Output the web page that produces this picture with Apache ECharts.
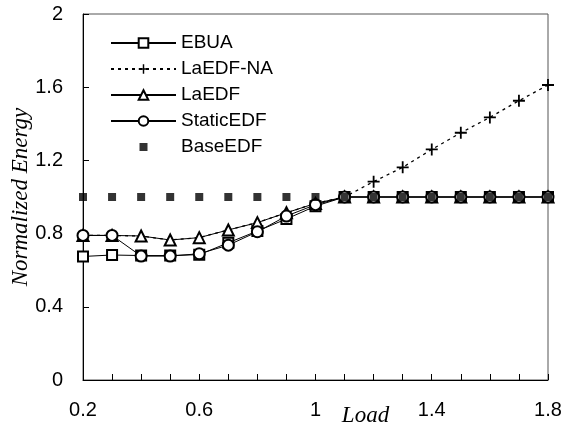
<!DOCTYPE html>
<html>
<head>
<meta charset="utf-8">
<script src="https://cdn.jsdelivr.net/npm/echarts@6/dist/echarts.min.js"></script>
<style>html,body{margin:0;padding:0;background:#fff}#c{width:564px;height:436px}</style>
</head>
<body>
<div id="c"></div>
<script>
var loads = [0.2,0.3,0.4,0.5,0.6,0.7,0.8,0.9,1.0,1.1,1.2,1.3,1.4,1.5,1.6,1.7,1.8];
var ebua      = [0.675,0.683,0.68,0.68,0.685,0.75,0.814,0.88,0.95,1.0,1.0,1.0,1.0,1.0,1.0,1.0,1.0];
var laedfNA   = [0.79,0.79,0.787,0.765,0.778,0.82,0.86,0.914,0.965,1.0,1.084,1.162,1.26,1.351,1.435,1.526,1.612];
var laedf     = [0.79,0.79,0.787,0.765,0.778,0.82,0.86,0.914,0.965,1.0,1.0,1.0,1.0,1.0,1.0,1.0,1.0];
var staticEdf = [0.79,0.79,0.677,0.677,0.69,0.737,0.81,0.896,0.958,1.0,1.0,1.0,1.0,1.0,1.0,1.0,1.0];
var baseEdf   = [1.0,1.0,1.0,1.0,1.0,1.0,1.0,1.0,1.0,1.0,1.0,1.0,1.0,1.0,1.0,1.0,1.0];
var xTickLabels = ['0.2','0.6','1','1.4','1.8'];
var yTickLabels = ['0','0.4','0.8','1.2','1.6','2'];
var seriesNames = ['EBUA','LaEDF-NA','LaEDF','StaticEDF','BaseEDF'];

function pairs(vals){ return loads.map(function(x,i){ return [x, vals[i]]; }); }
var plusPath = 'path://M0,4.25H4.25V0H5.75V4.25H10V5.75H5.75V10H4.25V5.75H0Z';
var squareIcon = 'path://M0,0M65,12M28.5,2H36.5V10H28.5Z';
var sans = 'Liberation Sans, Arial, sans-serif';
var serif = 'Liberation Serif, Times New Roman, serif';

var chart = echarts.init(document.getElementById('c'));
chart.setOption({
  animation: false,
  backgroundColor: '#fff',
  grid: { left: 83, right: 16, top: 14, bottom: 56, show: true, borderColor: '#555', borderWidth: 1,
          containLabel: false, outerBoundsMode: 'none' },
  legend: {
    orient: 'vertical', left: 110, top: 33, padding: 0,
    itemWidth: 65, itemHeight: 12, itemGap: 6,
    textStyle: { fontFamily: sans, fontSize: 19, lineHeight: 20, color: '#000' },
    data: [
      { name: 'EBUA' }, { name: 'LaEDF-NA' }, { name: 'LaEDF' }, { name: 'StaticEDF' },
      { name: 'BaseEDF', icon: squareIcon }
    ]
  },
  xAxis: {
    type: 'value', min: 0.2, max: 1.8, interval: 0.1,
    name: 'Load', nameLocation: 'middle', nameGap: 24, nameMoveOverlap: false,
    nameTextStyle: { fontFamily: serif, fontStyle: 'italic', fontSize: 23, color: '#000', padding: [0,0,0,100] },
    axisLine: { lineStyle: { color: '#000', width: 1 } },
    axisTick: { inside: true, length: 6, lineStyle: { color: '#000' } },
    splitLine: { show: false },
    axisLabel: {
      margin: 20, color: '#000', fontFamily: sans, fontSize: 20,
      formatter: function(v){
        var k = Math.round(v*10);
        if ((k-2) % 4 === 0) return xTickLabels[(k-2)/4];
        return '';
      }
    }
  },
  yAxis: {
    type: 'value', min: 0, max: 2, interval: 0.4,
    name: 'Normalized Energy', nameLocation: 'middle', nameGap: 51, nameMoveOverlap: false,
    nameTextStyle: { fontFamily: serif, fontStyle: 'italic', fontSize: 23, color: '#000' },
    axisLine: { show: true, lineStyle: { color: '#000', width: 1 } },
    axisTick: { show: true, inside: true, length: 6, lineStyle: { color: '#000' } },
    splitLine: { show: false },
    axisLabel: {
      margin: 20, color: '#000', fontFamily: sans, fontSize: 20,
      formatter: function(v){ return yTickLabels[Math.round(v/0.4)]; }
    }
  },
  series: [
    { name: 'EBUA', type: 'line', data: pairs(ebua), symbol: 'emptyRect', symbolSize: 10,
      lineStyle: { color: '#000', width: 1 }, itemStyle: { color: '#000', borderWidth: 1 }, z: 2 },
    { name: 'LaEDF-NA', type: 'line', data: pairs(laedfNA), symbol: plusPath,
      symbolSize: function(v){ return v[0] > 1.05 ? 12 : 0; },
      lineStyle: { color: '#000', width: 1.3, type: [3,4] }, itemStyle: { color: '#000' }, z: 3 },
    { name: 'LaEDF', type: 'line', data: pairs(laedf), symbol: 'emptyTriangle', symbolSize: 11,
      lineStyle: { color: '#000', width: 1 }, itemStyle: { color: '#000', borderWidth: 1 }, z: 4 },
    { name: 'StaticEDF', type: 'line', data: pairs(staticEdf), symbol: 'emptyCircle', symbolSize: 11,
      lineStyle: { color: '#000', width: 1 }, itemStyle: { color: '#000', borderWidth: 1 }, z: 5 },
    { name: 'BaseEDF', type: 'scatter', data: pairs(baseEdf), symbol: 'rect', symbolSize: 8,
      itemStyle: { color: '#000' }, z: 6 }
  ]
});
</script>
</body>
</html>
